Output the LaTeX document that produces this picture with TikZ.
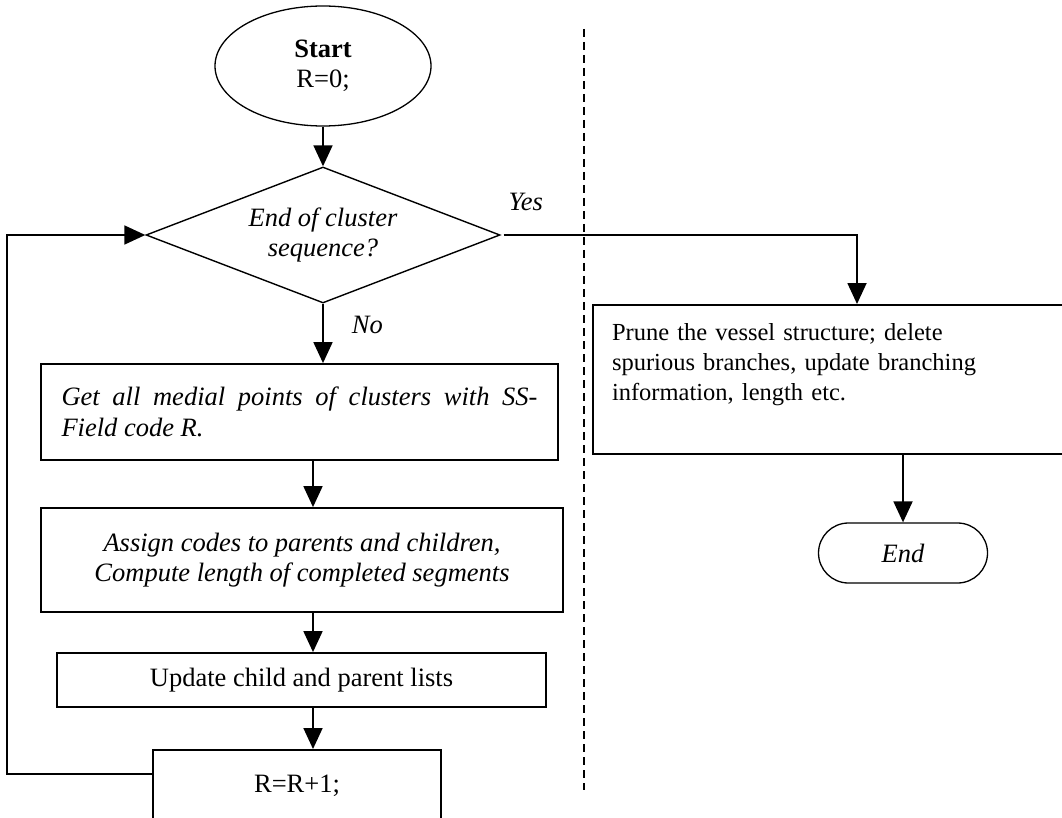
\documentclass[tikz,border=0pt]{standalone}
\usepackage{fontspec}
\setmainfont{Liberation Serif}
\usetikzlibrary{shapes.geometric,arrows.meta}
\newcommand\flowfont{\fontsize{26.5}{30.5}\selectfont}

\begin{document}
\begin{tikzpicture}[x=1pt,y=-1pt,line width=1.8pt,font=\flowfont,
    >={Triangle[length=21pt,width=19pt]},
    terminal/.style={draw,ellipse,line width=1.3pt,minimum width=216pt,minimum height=120pt,inner sep=0pt,align=center},
    decision/.style={draw,diamond,aspect=2.6,line width=1.4pt,minimum width=354pt,minimum height=136pt,inner sep=0pt,align=center,font=\flowfont\itshape},
    process/.style={draw,rectangle,inner sep=0pt},
    stopper/.style={draw,rectangle,rounded corners=30pt,line width=1.3pt,minimum width=169pt,minimum height=60pt,inner sep=0pt,font=\flowfont\itshape}]
    \useasboundingbox (0,0) rectangle (1062,818);
    \clip (0,0) rectangle (1062,818);
    \fill[white] (0,0) rectangle (1062,818);
    \node[terminal] (start) at (323,66) {\textbf{Start}\\R=0;};
    \node[decision] (dec) at (323,235) {End of cluster\\sequence?};
    \node[process,minimum width=517pt,minimum height=96pt,text width=476pt,align=justify,font=\flowfont\itshape] (get) at (299.5,412) {Get all medial points of clusters with SS-\linebreak Field code R.};
    \node[process,minimum width=522pt,minimum height=104pt,align=center,font=\flowfont\itshape] (assign) at (302,560) {Assign codes to parents and children,\\Compute length of completed segments};
    \node[process,minimum width=489pt,minimum height=54pt] (update) at (301.5,680) {Update child and parent lists};
    \node[process,minimum width=288pt,anchor=north,text height=43pt,text depth=60pt] (inc) at (297,749) {R=R+1;};
    \node[process,anchor=north,text width=490pt,inner xsep=19pt,align=left,text height=36pt,text depth=113pt,font=\fontsize{24.5}{30}\selectfont] (prune) at (857,304) {Prune the vessel structure; delete\\spurious branches, update branching\\information, length etc.};
    \node[stopper] (end) at (903,553) {End};
    \coordinate (axis) at (313,0);
    \path[->]
    (start) edge (dec)
    (dec.south) edge node[midway,anchor=west,inner sep=0pt,xshift=28pt,yshift=8pt,font=\flowfont\itshape] {No} (dec.south |- get.north)
    (get.south -| axis) edge (assign.north -| axis)
    (assign.south -| axis) edge (update.north -| axis)
    (update.south -| axis) edge (inc.north -| axis)
    (end.north |- prune.south) edge (end.north)
    ;
    \draw[->] ([xshift=3pt]dec.east) -| node[pos=0,anchor=south west,inner sep=0pt,xshift=4pt,yshift=23pt,font=\flowfont\itshape] {Yes} (prune.north);
    \draw[->] ([yshift=-25pt]inc.north west) -- ++(-145,0) |- (dec.west);
    \draw[line width=1.5pt,dash pattern=on 8pt off 5pt] (584,29) -- (584,790);
\end{tikzpicture}
\end{document}
